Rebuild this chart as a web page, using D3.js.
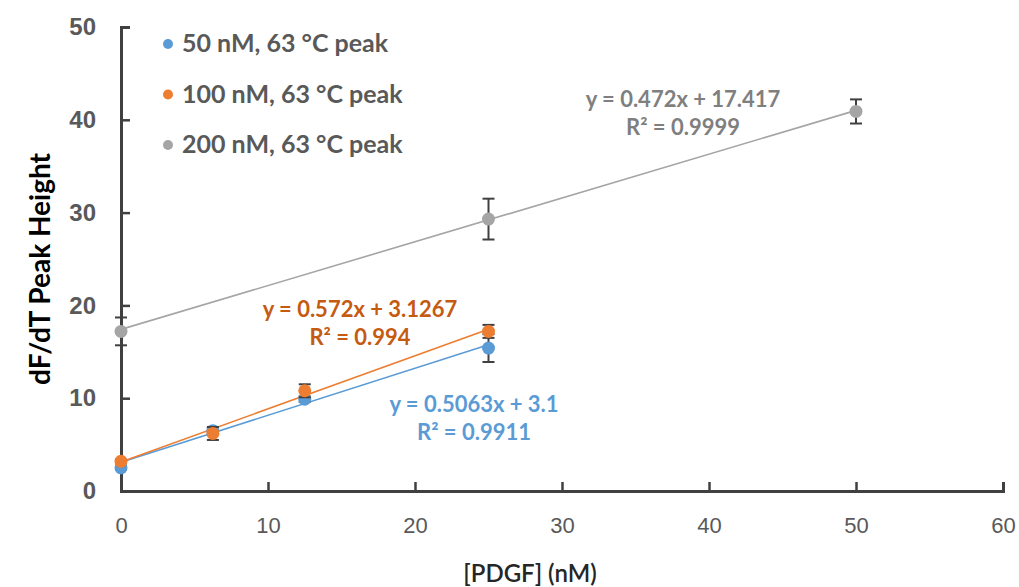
<!DOCTYPE html>
<html>
<head>
<meta charset="utf-8">
<script src="https://cdn.jsdelivr.net/npm/d3@7/dist/d3.min.js"></script>
<style>
  body { margin: 0; background: #fff; }
  svg { display: block; font-family: Lato, "Liberation Sans", sans-serif; }
</style>
</head>
<body>
<div id="chart"></div>
<script>
// --- Daten ---
const konzentration = [0, 6.25, 12.5, 25, 50];          // [PDGF] in nM

const serienNamen = ["50 nM, 63 °C peak", "100 nM, 63 °C peak", "200 nM, 63 °C peak"];
const serienFarben = ["#5B9BD5", "#ED7D31", "#A5A5A5"];
const textFarben = ["#5B9BD5", "#C55A11", "#7F7F7F"];

// Messwerte je Serie (null = kein Punkt)
const werte50 = [2.5, 6.5, 9.9, 15.4, null];
const werte100 = [3.2, 6.2, 10.8, 17.2, null];
const werte200 = [17.2, null, null, 29.3, 40.9];

// Fehlerbalken (±)
const fehler50 = [0.2, 0.3, 0.3, 1.5, null];
const fehler100 = [0.2, 0.7, 0.7, 0.7, null];
const fehler200 = [1.5, null, null, 2.2, 1.3];

// Trendlinien: Steigung, Achsenabschnitt, Bereich
const steigungen = [0.5063, 0.572, 0.472];
const achsenabschnitte = [3.1, 3.1267, 17.417];
const trendEnde = [25, 25, 50];
const gleichungen = ["y = 0.5063x + 3.1", "y = 0.572x + 3.1267", "y = 0.472x + 17.417"];
const bestimmtheit = ["R² = 0.9911", "R² = 0.994", "R² = 0.9999"];

const xTicks = [0, 10, 20, 30, 40, 50, 60];
const yTicks = [0, 10, 20, 30, 40, 50];

const alleWerte = [werte50, werte100, werte200];
const alleFehler = [fehler50, fehler100, fehler200];

// --- Zeichenbereich ---
const width = 1019, height = 587;
const margin = { top: 27, right: 16, bottom: 96, left: 121 };

const svg = d3.select("#chart").append("svg")
  .attr("width", width)
  .attr("height", height);

const xScale = d3.scaleLinear().domain([0, 60]).range([margin.left, width - margin.right]);
const yScale = d3.scaleLinear().domain([0, 50]).range([height - margin.bottom, margin.top]);

const achsenFarbe = "#404040";

// X-Achse (Ticks nach innen)
const xAxis = svg.append("g")
  .attr("transform", `translate(0,${yScale(0)})`)
  .call(d3.axisBottom(xScale).tickValues(xTicks).tickSize(-9).tickSizeOuter(-9).tickPadding(26));
xAxis.select(".domain").attr("stroke", achsenFarbe).attr("stroke-width", 3);
xAxis.selectAll(".tick line").attr("stroke", achsenFarbe).attr("stroke-width", 2.5);
xAxis.selectAll("text")
  .attr("fill", "#595959")
  .style("font-size", "22px");

// Y-Achse (Ticks nach innen)
const yAxis = svg.append("g")
  .attr("transform", `translate(${xScale(0)},0)`)
  .call(d3.axisLeft(yScale).tickValues(yTicks).tickSize(-9).tickSizeOuter(-9).tickPadding(25));
yAxis.select(".domain").attr("stroke", achsenFarbe).attr("stroke-width", 3);
yAxis.selectAll(".tick line").attr("stroke", achsenFarbe).attr("stroke-width", 2.5);
yAxis.selectAll("text")
  .attr("fill", "#595959")
  .style("font-size", "24px")
  .style("font-weight", "bold");

// Achsentitel
svg.append("text")
  .attr("x", (xScale(0) + xScale(60)) / 2 - 32)
  .attr("y", 582)
  .attr("text-anchor", "middle")
  .style("font-size", "24px")
  .style("font-weight", "600")
  .attr("fill", "#262626")
  .text("[PDGF] (nM)");

svg.append("text")
  .attr("transform", `translate(50,269)rotate(-90)`)
  .attr("text-anchor", "middle")
  .style("font-size", "28px")
  .style("font-weight", "bold")
  .attr("fill", "#000")
  .text("dF/dT Peak Height");

// Trendlinien
const trendGruppe = svg.append("g");
serienNamen.forEach((name, i) => {
  const pts = [0, trendEnde[i]].map(x => ({ x, y: steigungen[i] * x + achsenabschnitte[i] }));
  trendGruppe.append("path")
    .datum(pts)
    .attr("fill", "none")
    .attr("stroke", serienFarben[i])
    .attr("stroke-width", 1.6)
    .attr("d", d3.line().x(d => xScale(d.x)).y(d => yScale(d.y)));
});

// Fehlerbalken und Punkte (Reihenfolge: grau, blau, orange ganz oben)
[2, 0, 1].forEach(i => {
  const daten = konzentration
    .map((x, j) => ({ x, y: alleWerte[i][j], e: alleFehler[i][j] }))
    .filter(d => d.y !== null);

  const g = svg.append("g");
  const eb = g.selectAll("g.err")
    .data(daten)
    .enter()
    .append("g")
    .attr("stroke", achsenFarbe)
    .attr("stroke-width", 2);
  eb.append("line")
    .attr("x1", d => xScale(d.x)).attr("x2", d => xScale(d.x))
    .attr("y1", d => yScale(d.y - d.e)).attr("y2", d => yScale(d.y + d.e));
  eb.append("line")
    .attr("x1", d => xScale(d.x) - 6).attr("x2", d => xScale(d.x) + 6)
    .attr("y1", d => yScale(d.y - d.e)).attr("y2", d => yScale(d.y - d.e));
  eb.append("line")
    .attr("x1", d => xScale(d.x) - 6).attr("x2", d => xScale(d.x) + 6)
    .attr("y1", d => yScale(d.y + d.e)).attr("y2", d => yScale(d.y + d.e));

  g.selectAll("circle")
    .data(daten)
    .enter()
    .append("circle")
    .attr("cx", d => xScale(d.x))
    .attr("cy", d => yScale(d.y))
    .attr("r", 6.5)
    .attr("fill", serienFarben[i]);
});

// Gleichungen der Trendlinien
const labelPos = [[474, 412], [360, 317], [683, 107]];
serienNamen.forEach((name, i) => {
  const t = svg.append("text")
    .attr("text-anchor", "middle")
    .style("font-size", "22px")
    .style("font-weight", "bold")
    .attr("fill", textFarben[i]);
  t.append("tspan").attr("x", labelPos[i][0]).attr("y", labelPos[i][1]).text(gleichungen[i]);
  t.append("tspan").attr("x", labelPos[i][0]).attr("y", labelPos[i][1] + 28).text(bestimmtheit[i]);
});

// Legende
const legende = svg.append("g");
serienNamen.forEach((name, i) => {
  const y = 44 + i * 50.5;
  legende.append("circle").attr("cx", 168).attr("cy", y).attr("r", 5).attr("fill", serienFarben[i]);
  legende.append("text")
    .attr("x", 182).attr("y", y + 8)
    .style("font-size", "25px")
    .style("font-weight", "bold")
    .attr("fill", "#595959")
    .text(name);
});
</script>
</body>
</html>
